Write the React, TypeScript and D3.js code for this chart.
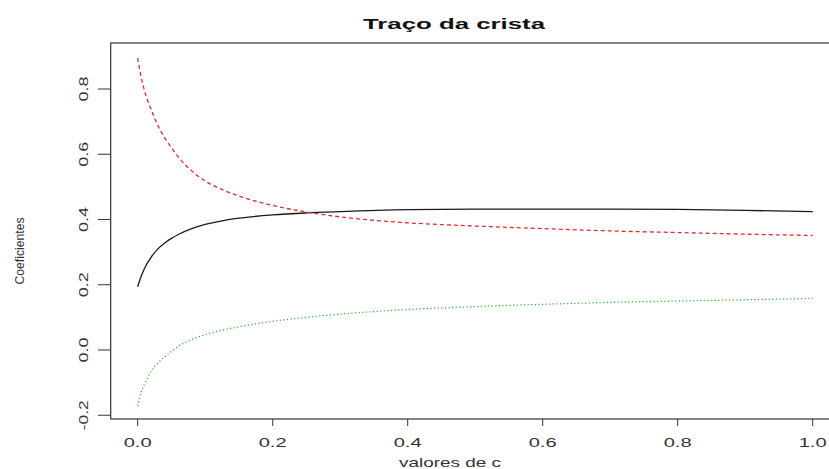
import React, { useEffect, useRef } from "react";
import * as d3 from "d3";

// valores de c (eixo x)
const cValues = [0, 0.005, 0.01, 0.02, 0.03, 0.04, 0.05, 0.06, 0.08, 0.1, 0.125, 0.15, 0.2, 0.25, 0.3, 0.4, 0.5, 0.6, 0.7, 0.8, 0.9, 1.0];

// coeficientes
const coefPreto = [0.194, 0.225, 0.25, 0.285, 0.31, 0.328, 0.342, 0.354, 0.372, 0.385, 0.396, 0.404, 0.414, 0.42, 0.424, 0.43, 0.432, 0.432, 0.432, 0.431, 0.428, 0.424];
const coefVermelho = [0.895, 0.838, 0.795, 0.737, 0.688, 0.65, 0.62, 0.592, 0.549, 0.518, 0.492, 0.472, 0.443, 0.423, 0.408, 0.39, 0.38, 0.372, 0.365, 0.36, 0.355, 0.351];
const coefVerde = [-0.172, -0.13, -0.105, -0.065, -0.04, -0.02, -0.005, 0.011, 0.032, 0.047, 0.061, 0.071, 0.088, 0.1, 0.11, 0.124, 0.133, 0.14, 0.146, 0.15, 0.154, 0.158];

const xTicks = [0, 0.2, 0.4, 0.6, 0.8, 1.0];
const yTicks = [-0.2, 0, 0.2, 0.4, 0.6, 0.8];

const W = 829;
const H = 469;

export default function App() {
  const ref = useRef<SVGSVGElement | null>(null);

  useEffect(() => {
    const svg = d3.select(ref.current);
    svg.selectAll("*").remove();

    const x = d3.scaleLinear().domain([-0.04, 1.04]).range([110.7, 839.7]);
    const y = d3.scaleLinear().domain([-0.2115, 0.941]).range([419, 43]);

    svg.append("rect").attr("width", W).attr("height", H).attr("fill", "#fff");

    const series = [
      { vals: coefPreto, color: "#1a1a1a", dash: null },
      { vals: coefVermelho, color: "#e62a30", dash: "4,3" },
      { vals: coefVerde, color: "#33b833", dash: "1.2,2.4" },
    ];

    const line = d3
      .line<number>()
      .x((_, i) => x(cValues[i]))
      .y((d) => y(d))
      .curve(d3.curveMonotoneX);

    series.forEach((s) => {
      svg
        .append("path")
        .attr("d", line(s.vals))
        .attr("fill", "none")
        .attr("stroke", s.color)
        .attr("stroke-width", 1.3)
        .attr("stroke-dasharray", s.dash);
    });

    // caixa do gráfico
    svg
      .append("rect")
      .attr("x", x(-0.04))
      .attr("y", y(0.941))
      .attr("width", x(1.04) - x(-0.04))
      .attr("height", y(-0.2115) - y(0.941))
      .attr("fill", "none")
      .attr("stroke", "#333")
      .attr("stroke-width", 1.2);

    const font = "Liberation Sans, Arial, sans-serif";

    // eixo x
    xTicks.forEach((t) => {
      svg
        .append("line")
        .attr("x1", x(t))
        .attr("x2", x(t))
        .attr("y1", 419)
        .attr("y2", 426)
        .attr("stroke", "#333");
      svg
        .append("text")
        .attr("x", x(t))
        .attr("y", 447)
        .attr("text-anchor", "middle")
        .attr("font-family", font)
        .attr("font-size", 12.5)
        .attr("fill", "#333")
        .attr("textLength", 28)
        .attr("lengthAdjust", "spacingAndGlyphs")
        .text(t.toFixed(1));
    });

    // eixo y
    yTicks.forEach((t) => {
      svg
        .append("line")
        .attr("x1", 98)
        .attr("x2", 110.7)
        .attr("y1", y(t))
        .attr("y2", y(t))
        .attr("stroke", "#333");
      svg
        .append("text")
        .attr("transform", `translate(87.5,${y(t)}) rotate(-90)`)
        .attr("text-anchor", "middle")
        .attr("font-family", font)
        .attr("font-size", 12.5)
        .attr("fill", "#333")
        .attr("textLength", t < 0 ? 30 : 25)
        .attr("lengthAdjust", "spacingAndGlyphs")
        .text(t.toFixed(1));
    });

    svg
      .append("text")
      .attr("x", 454)
      .attr("y", 29)
      .attr("text-anchor", "middle")
      .attr("font-family", font)
      .attr("font-weight", "bold")
      .attr("font-size", 15)
      .attr("fill", "#111")
      .attr("textLength", 182)
      .attr("lengthAdjust", "spacingAndGlyphs")
      .text("Traço da crista");

    svg
      .append("text")
      .attr("x", 450)
      .attr("y", 467)
      .attr("text-anchor", "middle")
      .attr("font-family", font)
      .attr("font-size", 13)
      .attr("fill", "#333")
      .attr("textLength", 102)
      .attr("lengthAdjust", "spacingAndGlyphs")
      .text("valores de c");

    svg
      .append("text")
      .attr("transform", "translate(24,251) rotate(-90)")
      .attr("text-anchor", "middle")
      .attr("font-family", font)
      .attr("font-size", 13)
      .attr("fill", "#333")
      .attr("textLength", 67)
      .attr("lengthAdjust", "spacingAndGlyphs")
      .text("Coeficientes");
  }, []);

  return (
    <svg
      ref={ref}
      width={W}
      height={H}
      style={{ position: "absolute", left: 0, top: 0, display: "block" }}
    />
  );
}
